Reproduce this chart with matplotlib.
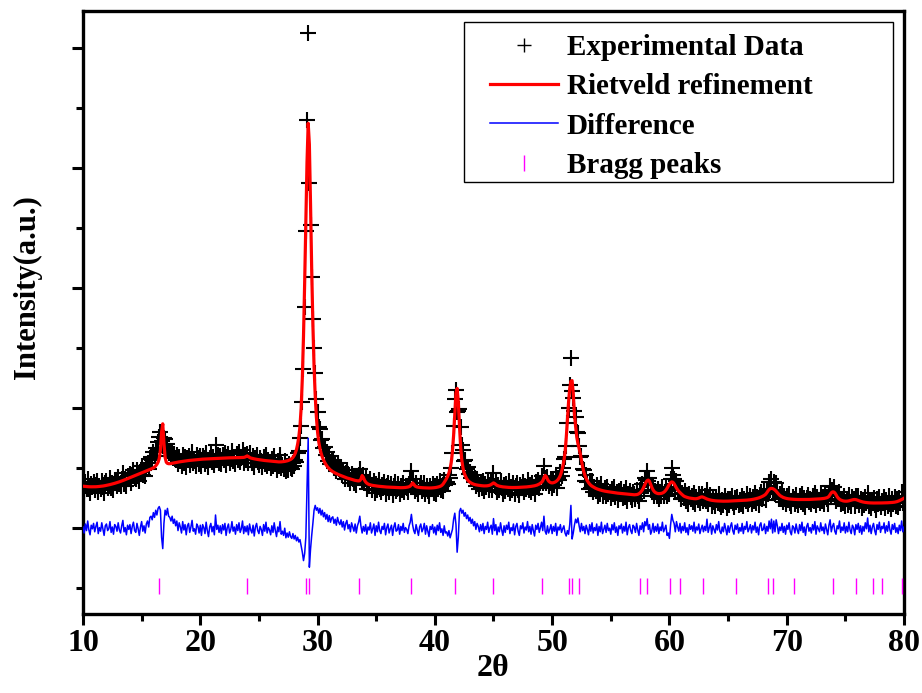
import numpy as np
import matplotlib
matplotlib.use("Agg")
import matplotlib.pyplot as plt
from matplotlib.ticker import MultipleLocator, NullFormatter
from matplotlib.patches import Rectangle

plt.rcParams['font.family'] = ['Liberation Serif', 'DejaVu Serif']
plt.rcParams['font.weight'] = 'bold'

# 2-theta grid, 10.0 .. 80.0 in 0.1 deg steps
two_theta = np.round(np.linspace(10.0, 80.0, 701), 1)

# Rietveld calculated profile (one row per degree: x.0 .. x.9)
calc_vals = [
    700, 698, 696, 694, 692, 691, 690, 690, 690, 690,
    690, 691, 692, 694, 696, 698, 700, 703, 706, 710,
    714, 718, 722, 727, 732, 737, 742, 748, 754, 760,
    766, 773, 780, 787, 794, 802, 810, 818, 826, 834,
    842, 850, 858, 866, 874, 882, 890, 898, 906, 914,
    922, 930, 938, 946, 954, 962, 970, 978, 986, 995,
    1005, 1020, 1040, 1065, 1100, 1160, 1300, 1600, 1740, 1420,
    1180, 1100, 1080, 1075, 1075, 1078, 1082, 1086, 1090, 1094,
    1098, 1102, 1105, 1108, 1111, 1114, 1117, 1120, 1123, 1126,
    1128, 1130, 1132, 1134, 1136, 1138, 1140, 1142, 1144, 1146,
    1148, 1150, 1151, 1152, 1153, 1154, 1155, 1156, 1157, 1158,
    1159, 1160, 1161, 1162, 1163, 1164, 1165, 1166, 1167, 1168,
    1169, 1170, 1171, 1172, 1172, 1173, 1173, 1174, 1174, 1175,
    1175, 1176, 1176, 1177, 1177, 1178, 1178, 1180, 1185, 1195,
    1205, 1195, 1180, 1170, 1165, 1160, 1156, 1152, 1148, 1145,
    1142, 1139, 1136, 1133, 1130, 1128, 1126, 1124, 1122, 1120,
    1118, 1116, 1114, 1112, 1110, 1108, 1106, 1105, 1105, 1106,
    1108, 1110, 1113, 1117, 1122, 1128, 1136, 1146, 1160, 1180,
    1210, 1250, 1310, 1400, 1520, 1700, 2000, 2500, 3200, 4100,
    5100, 6100, 6750, 6400, 5400, 4300, 3400, 2700, 2200, 1850,
    1600, 1440, 1330, 1250, 1190, 1140, 1100, 1065, 1035, 1010,
    990, 970, 955, 942, 930, 920, 910, 900, 892, 884,
    876, 868, 860, 852, 845, 838, 832, 826, 820, 814,
    808, 802, 797, 793, 790, 788, 792, 820, 878, 850,
    800, 770, 750, 737, 728, 722, 717, 713, 710, 707,
    704, 701, 699, 697, 695, 693, 691, 689, 687, 686,
    685, 684, 683, 682, 681, 680, 679, 678, 677, 676,
    675, 675, 675, 676, 677, 679, 682, 686, 692, 702,
    725, 755, 735, 705, 693, 686, 682, 679, 677, 675,
    674, 673, 672, 671, 670, 670, 670, 671, 672, 674,
    676, 679, 683, 688, 694, 702, 715, 735, 765, 795,
    830, 870, 920, 990, 1100, 1280, 1550, 1900, 2250, 2330,
    2100, 1700, 1350, 1130, 1000, 920, 870, 830, 800, 780,
    765, 752, 742, 734, 728, 723, 719, 716, 713, 710,
    708, 706, 705, 705, 706, 708, 712, 718, 728, 742,
    755, 745, 728, 714, 706, 700, 696, 692, 689, 687,
    685, 683, 681, 680, 679, 678, 678, 678, 678, 679,
    679, 680, 680, 681, 682, 683, 684, 686, 688, 690,
    692, 694, 697, 700, 703, 707, 712, 718, 726, 736,
    750, 765, 790, 840, 880, 860, 815, 785, 768, 758,
    755, 758, 765, 775, 790, 810, 840, 880, 940, 1020,
    1120, 1260, 1500, 1800, 2100, 2330, 2450, 2460, 2250, 1900,
    1700, 1520, 1410, 1330, 1240, 1130, 1020, 940, 880, 830,
    790, 760, 735, 715, 700, 688, 676, 666, 657, 650,
    643, 637, 631, 626, 621, 617, 613, 610, 607, 604,
    601, 598, 595, 592, 589, 586, 584, 582, 580, 578,
    576, 574, 572, 570, 568, 566, 564, 562, 560, 558,
    557, 558, 560, 565, 575, 590, 612, 640, 680, 725,
    765, 795, 802, 780, 730, 680, 640, 612, 595, 585,
    578, 576, 577, 580, 586, 596, 612, 635, 665, 700,
    735, 760, 772, 765, 740, 705, 670, 640, 615, 595,
    575, 558, 540, 528, 520, 514, 508, 503, 500, 497,
    494, 492, 491, 492, 496, 503, 512, 520, 522, 515,
    505, 495, 487, 480, 474, 469, 465, 462, 459, 457,
    455, 454, 453, 452, 451, 450, 450, 450, 450, 451,
    451, 452, 452, 453, 454, 455, 456, 457, 458, 459,
    460, 461, 462, 463, 464, 466, 468, 470, 472, 474,
    477, 480, 484, 488, 493, 498, 504, 511, 519, 528,
    538, 550, 565, 590, 620, 645, 660, 663, 660, 650,
    635, 615, 592, 570, 550, 535, 523, 513, 506, 500,
    495, 491, 488, 486, 484, 482, 481, 480, 479, 479,
    478, 478, 478, 478, 478, 478, 478, 478, 478, 479,
    480, 481, 482, 483, 484, 485, 486, 487, 488, 490,
    492, 494, 497, 501, 506, 515, 530, 560, 590, 605,
    605, 590, 560, 525, 500, 483, 470, 462, 456, 452,
    450, 450, 452, 456, 462, 468, 473, 477, 478, 476,
    470, 462, 455, 448, 442, 437, 433, 430, 427, 425,
    423, 422, 421, 420, 420, 420, 420, 420, 420, 421,
    421, 421, 422, 422, 423, 423, 424, 425, 426, 427,
    429, 431, 434, 438, 443, 450, 458, 467, 478, 488,
    500,
]

# Difference curve (observed - calculated), same grid
diff_vals = [
    20, -80, 70, -40, 120, -30, -110, 50, -10, 80,
    -60, 30, 100, -90, 10, -50, 90, -20, -120, 40,
    70, -40, -10, 110, -70, 20, -100, 60, 30, -50,
    90, -30, -80, 40, 130, -60, 10, -110, 50, -20,
    60, -90, 30, 100, -40, -70, 80, -10, -120, 20,
    110, -50, 40, -80, 70, 120, 20, 180, 200, 140,
    260, 180, 300, 220, 330, 360, 300, -150, -340, 80,
    300, 220, 330, 200, 180, 120, 200, 80, 150, 40,
    120, -40, 90, 20, -80, 110, -30, 60, -110, 40,
    80, -70, 20, 130, -50, -10, -100, 70, 30, -80,
    50, -120, 60, 10, -90, 100, -40, -140, 20, 80,
    -60, 30, -110, 220, -20, 50, -70, 40, -90, 60,
    -30, 80, -120, 10, 70, -80, -20, 110, -50, 20,
    -100, 60, -40, 90, -70, -10, 120, -90, 30, -60,
    40, -110, 70, -30, -80, 50, -130, 20, 80, -40,
    -90, 30, -20, -120, 60, -50, 100, -80, 10, -30,
    -110, 40, -70, 90, -40, -140, 20, -60, 110, -100,
    -50, -120, 0, -160, -80, -150, -60, -140, -170, -90,
    -180, -120, -210, -150, -230, -190, -300, -400, -540, -420,
    -150, 700, 1500, -650, -350, -120, 80, 300, 380, 300,
    340, 250, 330, 220, 300, 190, 260, 150, 230, 110,
    210, 100, 170, 190, 80, 150, 50, 180, 100, 60,
    140, 20, 110, -30, 80, 130, -10, 60, -60, 90,
    20, -50, 70, -80, 40, 100, 200, 30, -80, 30,
    -50, 60, -100, 20, -30, 90, -80, -10, 70, -120,
    40, -60, 100, -40, -90, 30, -20, 80, -110, 10,
    70, -80, -10, 50, -120, 20, 90, -50, -30, 60,
    -100, 30, -40, 80, -70, 10, -20, -90, 40, 100,
    230, 60, -40, -90, 60, -30, -120, 20, 70, -60,
    -10, 80, -100, 40, -50, -140, 30, -20, 60, -80,
    20, -110, 50, -40, 90, -70, -10, -120, 40, -80,
    -60, -130, -40, -160, -90, -20, 150, 250, 60, -400,
    -150, 280, 330, 250, 300, 200, 260, 160, 220, 120,
    180, 80, 150, 40, 110, -20, 80, 30, -60, 60,
    -40, 80, -90, 30, -20, 100, -70, 10, 50, -100,
    160, -40, 60, -110, 20, -60, 90, -30, -120, 40,
    -70, 50, -20, 100, -90, 10, -40, 70, -110, 30,
    80, -50, -120, 40, -10, 90, -80, 20, -30, 110,
    -60, 30, -100, 60, -40, -130, 50, -20, 80, -70,
    10, 100, -40, 200, -50, -100, 40, -80, -20, 60,
    -90, 30, -50, 80, -120, 20, -30, 60, -70, -10,
    40, -80, -130, -40, -100, 60, 380, -180, -80, 50,
    150, 90, 170, 40, -60, 80, -40, 30, -90, 50,
    -20, -110, 60, -50, 90, -80, 10, -40, 70, -120,
    30, -60, 100, -90, -20, 50, -70, 80, -40, 0,
    -100, 60, -30, 90, -70, 20, -120, 40, -10, 70,
    -80, 30, -50, 100, -110, 10, 60, -40, -90, 50,
    20, -70, 80, -30, -120, 40, -20, 90, -60, 110,
    40, 160, -20, 60, -100, -40, 80, -70, 30, -50,
    70, -90, 20, -40, 100, -60, -10, 50, -120, -80,
    -170, 60, 230, 130, 80, -60, 110, 20, -50, 80,
    -80, 30, -40, 90, -70, 10, -110, 60, -20, 40,
    -50, 100, -80, 20, -30, 70, -90, -10, 50, -60,
    30, -40, 150, -70, 10, 80, -100, 40, -20, -80,
    60, -30, 110, -50, -90, 20, -60, 80, -10, -110,
    40, -70, 30, 90, -40, -100, 50, -20, 70, -80,
    10, -50, 80, -90, 30, -20, 110, -60, -10, 60,
    -80, 40, -30, 100, -70, 20, -110, 50, 90, -40,
    -20, 70, -90, 30, -50, 120, -10, 150, -80, 120,
    -60, 140, 40, -90, 20, -40, 80, -70, 30, -100,
    50, -20, 90, -60, -110, 40, 10, -80, 70, -30,
    -90, 60, -40, 100, -70, 20, -120, 30, 80, -50,
    10, -80, 60, -30, 110, -100, 40, -10, -60, 90,
    -40, 20, -90, 70, -20, -110, 50, 140, -60, 30,
    80, -50, -100, 40, -10, 120, -70, 20, -40, 90,
    -80, 30, -60, 100, -30, -90, 50, 10, -110, 60,
    -20, 80, -70, 40, -100, 30, -50, 90, -10, 170,
    -60, 50, -90, 20, 80, -40, -110, 60, -20, 100,
    -70, 30, -10, 90, -80, 40, -50, 110, -30, -100,
    60, -20, 80, -70, 10, -90, 50, -40, 120, -60,
    20,
]

# Bragg reflection positions (2-theta)
bragg_positions = [16.47, 23.97, 29.0, 29.3, 33.55, 37.96, 41.72, 44.95,
                   49.15, 51.43, 51.66, 52.29, 57.45, 58.1, 60.08, 60.9,
                   62.85, 65.7, 68.4, 68.87, 70.65, 73.93, 75.92, 77.38,
                   78.1, 79.85]

calc = np.array(calc_vals, dtype=float)
diff = np.array(diff_vals, dtype=float)
obs = calc + diff
bragg = np.array(bragg_positions)

W, H = 922, 693
AX_L, AX_R, AX_T, AX_B = 83, 904, 11, 614
fig = plt.figure(figsize=(W / 100, H / 100), dpi=100)
ax = fig.add_axes([AX_L / W, 1 - AX_B / H, (AX_R - AX_L) / W, (AX_B - AX_T) / H])

def ax_x(px):
    return (px - AX_L) / (AX_R - AX_L)

def ax_y(py):
    return (AX_B - py) / (AX_B - AX_T)

ax.plot(two_theta, obs, ls='none', marker='+', ms=12, mew=1.5, color='black',
        label='Experimental Data', zorder=2)
ax.plot(two_theta, calc, color='#ff0000', lw=2.3, label='Rietveld refinement', zorder=3)
ax.plot(two_theta, diff, color='#0000ff', lw=1.1, label='Difference', zorder=3)
ax.plot(bragg, np.full(len(bragg), -960.0), ls='none', marker='|', ms=11, mew=1.0,
        color='#ff00ff', label='Bragg peaks', zorder=3)

ax.set_xlim(10, 80)
ax.set_ylim(-1430, 8620)
ax.xaxis.set_major_locator(MultipleLocator(10))
ax.xaxis.set_minor_locator(MultipleLocator(5))
ax.yaxis.set_major_locator(MultipleLocator(2000))
ax.yaxis.set_minor_locator(MultipleLocator(1000))
ax.yaxis.set_major_formatter(NullFormatter())

for s in ax.spines.values():
    s.set_linewidth(2.4)
ax.tick_params(which='major', direction='out', length=8, width=2.2,
               top=False, right=False, labelsize=23, pad=3)
ax.tick_params(which='minor', direction='out', length=5, width=2.2,
               top=False, right=False)
for lab in ax.get_xticklabels():
    lab.set_fontweight('bold')

ax.set_xlabel('2θ', fontsize=23, fontweight='bold', labelpad=-3)
ax.set_ylabel('Intensity(a.u.)', fontsize=22, fontweight='bold')
ax.yaxis.set_label_coords(ax_x(42), ax_y(287))

# legend frame drawn separately to match the wide box of the original
frame = Rectangle((ax_x(464), ax_y(182)), ax_x(893) - ax_x(464), ax_y(22) - ax_y(182),
                  transform=ax.transAxes, facecolor='white', edgecolor='black',
                  linewidth=1.0, zorder=4.9, clip_on=False)
ax.add_patch(frame)
leg = ax.legend(loc='upper left', bbox_to_anchor=(ax_x(490), ax_y(34)),
                borderaxespad=0, borderpad=0, frameon=False,
                handlelength=2.33, handletextpad=0.3, labelspacing=0.42,
                prop={'family': 'Liberation Serif', 'weight': 'bold', 'size': 21})
leg.set_zorder(5)
for h in leg.legend_handles:
    if h.get_marker() == '+':
        h.set_markersize(10)
        h.set_markeredgewidth(1.0)

fig.savefig('out.png', dpi=100)
